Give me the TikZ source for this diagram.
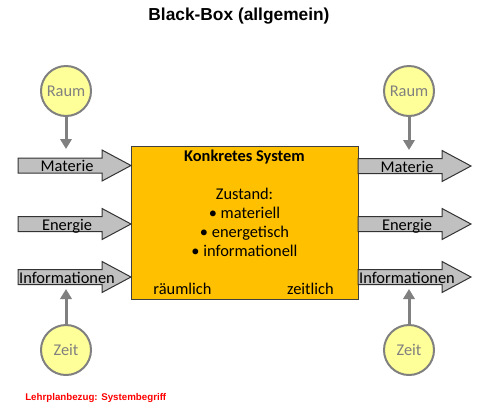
\documentclass[tikz,border=0pt]{standalone}
\usepackage{fontspec}
\setmainfont{Carlito}
\newfontfamily\arialfont{Liberation Sans}
\usetikzlibrary{arrows.meta}
\definecolor{boxgold}{HTML}{FFC000}
\definecolor{arrowgray}{HTML}{C0C0C0}
\definecolor{circfill}{HTML}{FFFF99}
\definecolor{circgray}{HTML}{808080}
\definecolor{redtext}{HTML}{FF0000}
\newcommand\blockarr[3]{%
  \draw[blockarrow] (#1,{#2-7.5}) -- ({#1+84},{#2-7.5}) -- ({#1+84},{#2-15.5}) -- ({#1+113},#2)
    -- ({#1+84},{#2+15.5}) -- ({#1+84},{#2+7.5}) -- (#1,{#2+7.5}) -- cycle;
  \node[arrowlabel, anchor=base] (#3) at ({#1+49},{#2+6}) {#3};}
\begin{document}
\begin{tikzpicture}[x=0.75pt,y=-0.75pt,
  blockarrow/.style={draw=black!80, fill=arrowgray, line width=0.75pt, line join=miter},
  arrowlabel/.style={font=\fontsize{12.3}{14}\selectfont, inner sep=0pt},
  influence/.style={circle, draw=circgray, fill=circfill, line width=1.5pt, minimum size=37.5pt, inner sep=0pt, text=circgray, font=\fontsize{12.3}{14}\selectfont},
  infl/.style={draw=circgray, line width=2.25pt, -{Triangle[width=8.5pt,length=7.5pt]}},
  systembox/.style={draw=black!75, fill=boxgold, line width=0.75pt, minimum width=170.25pt, minimum height=114.75pt, inner sep=0pt},
  boxtext/.style={font=\fontsize{12.3}{14.25}\selectfont, inner sep=0pt, align=center},
]
\path[use as bounding box] (0,0) rectangle (500,412);
\node[font=\arialfont\bfseries\fontsize{13}{15}\selectfont] (title) at (239,16) {Black-Box (allgemein)};
\node[systembox] (sys) at (244.5,222.5) {};
\node[boxtext, font=\bfseries\fontsize{12.3}{14.25}\selectfont] (sysname) at (244.5,157) {Konkretes System};
\node[boxtext] (zustand) at (244.5,222) {Zustand:\\• materiell\\• energetisch\\• informationell};
\node[boxtext] (raeumlich) at (182.5,289) {räumlich};
\node[boxtext] (zeitlich) at (310.5,289) {zeitlich};
\blockarr{18}{165.5}{Materie}
\blockarr{18}{224}{Energie}
\blockarr{18}{277}{Informationen}
\blockarr{358}{166}{Materie}
\blockarr{358}{224}{Energie}
\blockarr{358}{277}{Informationen}
\node[influence] (raumL) at (66,91) {Raum};
\node[influence] (raumR) at (409,91) {Raum};
\node[influence] (zeitL) at (66,350) {Zeit};
\node[influence] (zeitR) at (409,350) {Zeit};
\coordinate (inMat) at (66,149);
\coordinate (outMat) at (409,150);
\coordinate (inInf) at (66,289);
\coordinate (outInf) at (409,289);
\draw[infl] (raumL) -- (inMat);
\draw[infl] (raumR) -- (outMat);
\draw[infl] (zeitL) -- (inInf);
\draw[infl] (zeitR) -- (outInf);
\node[font=\arialfont\bfseries\fontsize{7.3}{9}\selectfont, text=redtext, anchor=west, inner sep=0pt] (lehrplan) at (25,398) {Lehrplanbezug: Systembegriff};
\end{tikzpicture}
\end{document}
